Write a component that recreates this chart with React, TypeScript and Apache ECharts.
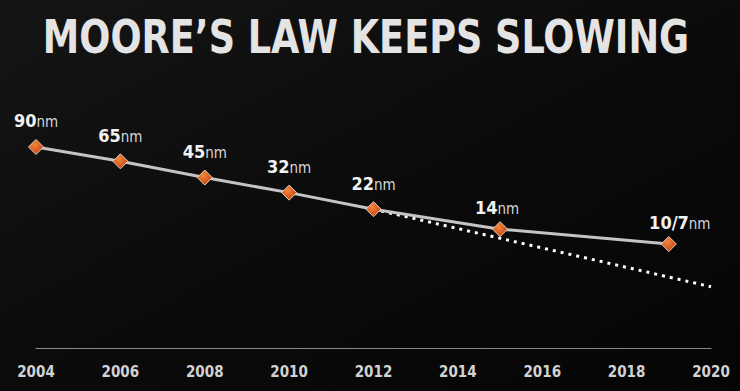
import React, { useEffect, useRef } from "react";
import * as echarts from "echarts";

const years = [2004, 2006, 2008, 2010, 2012, 2015, 2019];
const nodes = [90, 65, 45, 32, 22, 14, 10];
const nodeLabels = ["90", "65", "45", "32", "22", "14", "10/7"];
const trendYears = [2012, 2020];
const trendValues = [22, 3.8];
const xTicks = [2004, 2006, 2008, 2010, 2012, 2014, 2016, 2018, 2020];
const titleText = "MOORE\u2019S LAW KEEPS SLOWING";

const FONT = "'DejaVu Sans Condensed', 'Liberation Sans Narrow', 'Roboto', sans-serif";

export default function App() {
  const ref = useRef<HTMLDivElement>(null);
  useEffect(() => {
    if (!ref.current) return;
    const chart = echarts.init(ref.current, null, { renderer: "svg" });
    const labelOffsets: Record<number, [number, number]> = { 5: [-3, 4], 6: [11, 4] };
    const data = years.map((y, i) => ({
      value: [y, nodes[i]],
      label: {
        formatter: `{a|${nodeLabels[i]}}{b|nm}`,
        offset: labelOffsets[i] || [0, 0],
      },
    }));
    chart.setOption({
      animation: false,
      backgroundColor: {
        type: "linear",
        x: 0, y: 0, x2: 1, y2: 1,
        colorStops: [
          { offset: 0, color: "#151515" },
          { offset: 0.5, color: "#0b0b0b" },
          { offset: 1, color: "#050505" },
        ],
      },
      graphic: [
        {
          type: "text",
          x: 366,
          y: 37.5,
          scaleX: 0.885,
          style: {
            text: titleText,
            font: `bold 46px ${FONT}`,
            textAlign: "center",
            textVerticalAlign: "middle",
            fill: "#e4e4e4",
          },
        },
      ],
      grid: { left: 36, right: 29, top: 142.3, bottom: 43, containLabel: false },
      xAxis: {
        type: "value",
        min: 2004,
        max: 2020,
        interval: 2,
        axisLine: { show: true, lineStyle: { color: "#8a8a8a", width: 1 } },
        axisTick: { show: false },
        splitLine: { show: false },
        axisLabel: {
          color: "#d2d2d2",
          fontSize: 15,
          fontWeight: "bold",
          fontFamily: FONT,
          margin: 16,
          formatter: (v: number) => (xTicks.includes(v) ? String(v) : ""),
        },
      },
      yAxis: {
        type: "log",
        logBase: 10,
        min: 0.95,
        max: 100,
        show: false,
        splitLine: { show: false },
      },
      series: [
        {
          type: "line",
          data: trendYears.map((y, i) => [y, trendValues[i]]),
          showSymbol: false,
          symbol: "none",
          lineStyle: { color: "#ffffff", width: 3, type: [3, 5] },
          z: 1,
        },
        {
          type: "line",
          data,
          symbol: "diamond",
          symbolSize: 15,
          lineStyle: { color: "#c4c4c4", width: 3 },
          itemStyle: {
            color: {
              type: "radial",
              x: 0.4, y: 0.35, r: 0.7,
              colorStops: [
                { offset: 0, color: "#f5873a" },
                { offset: 1, color: "#c23e10" },
              ],
            },
            borderColor: "#e9d3c4",
            borderWidth: 1,
          },
          label: {
            show: true,
            position: "top",
            distance: 9,
            rich: {
              a: { fontSize: 18, fontWeight: "bold", color: "#f2f2f2", fontFamily: FONT },
              b: { fontSize: 15, color: "#d6d6d6", fontFamily: FONT, padding: [3, 0, 0, 0] },
            },
          },
          z: 2,
        },
      ],
    });
    return () => chart.dispose();
  }, []);
  return (
    <div
      ref={ref}
      style={{ position: "fixed", left: 0, top: 0, width: 740, height: 391 }}
    />
  );
}
